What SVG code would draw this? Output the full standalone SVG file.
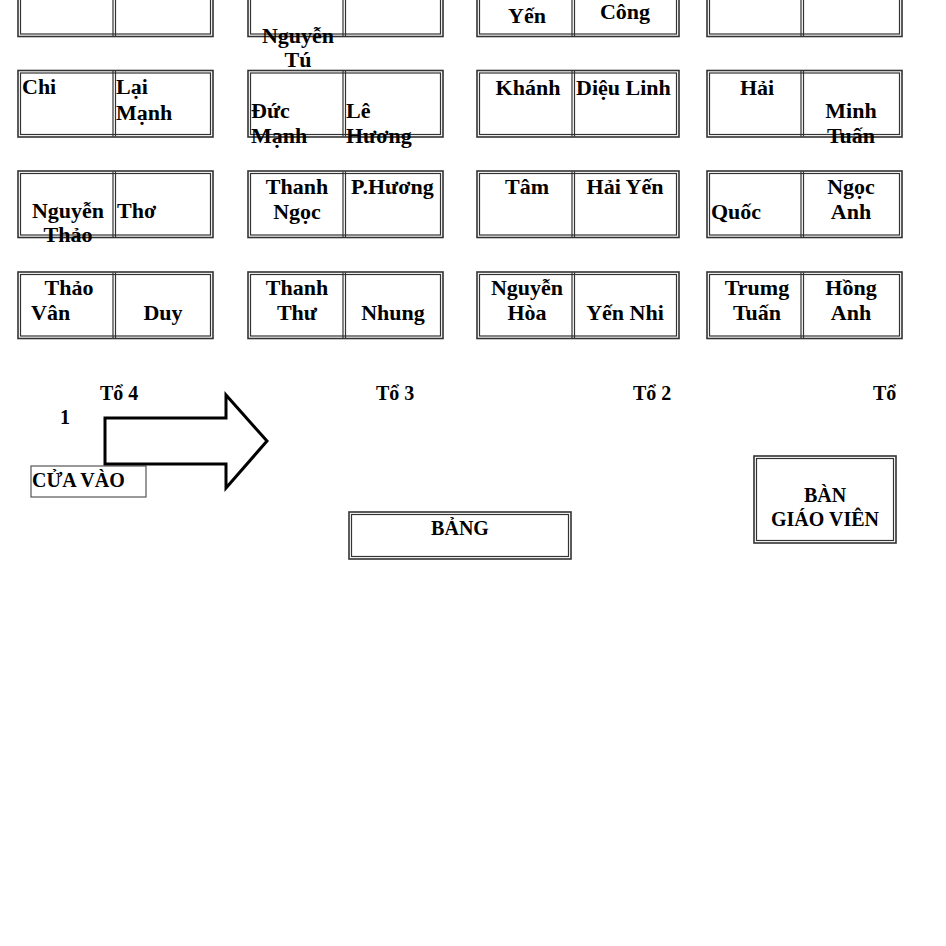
<svg xmlns="http://www.w3.org/2000/svg" width="946" height="946" viewBox="0 0 946 946">
<style>
.o{fill:#fff;stroke:#333;stroke-width:1.6}
.i{fill:none;stroke:#333;stroke-width:1.2}
.s{fill:#fff;stroke:#555;stroke-width:1.2}
text{font-family:"Liberation Serif","Times New Roman",serif;font-weight:bold;fill:#000}
.n{font-size:22px}
.l{font-size:20px}
.c{text-anchor:middle}
</style>
<rect width="946" height="946" fill="#fff"/>

<!-- Row 0 -->
<g id="desk-t4-r0"><rect class="o" x="18" y="-31" width="195" height="67.5"/><rect class="i" x="20.5" y="-28.5" width="190" height="62.5"/><line class="i" x1="113" y1="-30" x2="113" y2="36"/><line class="i" x1="115.5" y1="-30" x2="115.5" y2="36"/></g>
<g id="desk-t3-r0"><rect class="o" x="248" y="-31" width="195" height="67.5"/><rect class="i" x="250.5" y="-28.5" width="190" height="62.5"/><line class="i" x1="343" y1="-30" x2="343" y2="36"/><line class="i" x1="345.5" y1="-30" x2="345.5" y2="36"/>
<text class="n c" x="298" y="43">Nguyễn</text><text class="n c" x="298" y="67">Tú</text></g>
<g id="desk-t2-r0"><rect class="o" x="477" y="-31" width="202" height="67.5"/><rect class="i" x="479.5" y="-28.5" width="197" height="62.5"/><line class="i" x1="572" y1="-30" x2="572" y2="36"/><line class="i" x1="574.5" y1="-30" x2="574.5" y2="36"/>
<text class="n c" x="527" y="23">Yến</text><text class="n c" x="625" y="19">Công</text></g>
<g id="desk-t1-r0"><rect class="o" x="707" y="-31" width="195" height="67.5"/><rect class="i" x="709.5" y="-28.5" width="190" height="62.5"/><line class="i" x1="801" y1="-30" x2="801" y2="36"/><line class="i" x1="803.5" y1="-30" x2="803.5" y2="36"/></g>

<!-- Row 1 -->
<g id="desk-t4-r1"><rect class="o" x="18" y="70.5" width="195" height="66.5"/><rect class="i" x="20.5" y="73" width="190" height="61.5"/><line class="i" x1="113" y1="71" x2="113" y2="136.5"/><line class="i" x1="115.5" y1="71" x2="115.5" y2="136.5"/>
<text class="n" x="22" y="94">Chi</text><text class="n" x="116" y="94">Lại</text><text class="n" x="116" y="120">Mạnh</text></g>
<g id="desk-t3-r1"><rect class="o" x="248" y="70.5" width="195" height="66.5"/><rect class="i" x="250.5" y="73" width="190" height="61.5"/><line class="i" x1="343" y1="71" x2="343" y2="136.5"/><line class="i" x1="345.5" y1="71" x2="345.5" y2="136.5"/>
<text class="n" x="251" y="118">Đức</text><text class="n" x="251" y="143">Mạnh</text><text class="n" x="346" y="118">Lê</text><text class="n" x="346" y="143">Hương</text></g>
<g id="desk-t2-r1"><rect class="o" x="477" y="70.5" width="202" height="66.5"/><rect class="i" x="479.5" y="73" width="197" height="61.5"/><line class="i" x1="572" y1="71" x2="572" y2="136.5"/><line class="i" x1="574.5" y1="71" x2="574.5" y2="136.5"/>
<text class="n c" x="528" y="95">Khánh</text><text class="n" x="576" y="95">Diệu Linh</text></g>
<g id="desk-t1-r1"><rect class="o" x="707" y="70.5" width="195" height="66.5"/><rect class="i" x="709.5" y="73" width="190" height="61.5"/><line class="i" x1="801" y1="71" x2="801" y2="136.5"/><line class="i" x1="803.5" y1="71" x2="803.5" y2="136.5"/>
<text class="n c" x="757" y="95">Hải</text><text class="n c" x="851" y="118">Minh</text><text class="n c" x="851" y="143">Tuấn</text></g>

<!-- Row 2 -->
<g id="desk-t4-r2"><rect class="o" x="18" y="171" width="195" height="66.5"/><rect class="i" x="20.5" y="173.5" width="190" height="61.5"/><line class="i" x1="113" y1="171.5" x2="113" y2="237"/><line class="i" x1="115.5" y1="171.5" x2="115.5" y2="237"/>
<text class="n c" x="68" y="218">Nguyễn</text><text class="n c" x="68" y="242">Thảo</text><text class="n" x="117" y="218">Thơ</text></g>
<g id="desk-t3-r2"><rect class="o" x="248" y="171" width="195" height="66.5"/><rect class="i" x="250.5" y="173.5" width="190" height="61.5"/><line class="i" x1="343" y1="171.5" x2="343" y2="237"/><line class="i" x1="345.5" y1="171.5" x2="345.5" y2="237"/>
<text class="n c" x="297" y="194">Thanh</text><text class="n c" x="297" y="219">Ngọc</text><text class="n" x="351" y="194">P.Hương</text></g>
<g id="desk-t2-r2"><rect class="o" x="477" y="171" width="202" height="66.5"/><rect class="i" x="479.5" y="173.5" width="197" height="61.5"/><line class="i" x1="572" y1="171.5" x2="572" y2="237"/><line class="i" x1="574.5" y1="171.5" x2="574.5" y2="237"/>
<text class="n c" x="527" y="194">Tâm</text><text class="n c" x="625" y="194">Hải Yến</text></g>
<g id="desk-t1-r2"><rect class="o" x="707" y="171" width="195" height="66.5"/><rect class="i" x="709.5" y="173.5" width="190" height="61.5"/><line class="i" x1="801" y1="171.5" x2="801" y2="237"/><line class="i" x1="803.5" y1="171.5" x2="803.5" y2="237"/>
<text class="n" x="711" y="219">Quốc</text><text class="n c" x="851" y="194">Ngọc</text><text class="n c" x="851" y="219">Anh</text></g>

<!-- Row 3 -->
<g id="desk-t4-r3"><rect class="o" x="18" y="272" width="195" height="66.5"/><rect class="i" x="20.5" y="274.5" width="190" height="61.5"/><line class="i" x1="113" y1="272.5" x2="113" y2="338"/><line class="i" x1="115.5" y1="272.5" x2="115.5" y2="338"/>
<text class="n c" x="69" y="295">Thảo</text><text class="n" x="31" y="320">Vân</text><text class="n c" x="163" y="320">Duy</text></g>
<g id="desk-t3-r3"><rect class="o" x="248" y="272" width="195" height="66.5"/><rect class="i" x="250.5" y="274.5" width="190" height="61.5"/><line class="i" x1="343" y1="272.5" x2="343" y2="338"/><line class="i" x1="345.5" y1="272.5" x2="345.5" y2="338"/>
<text class="n c" x="297" y="295">Thanh</text><text class="n c" x="297" y="320">Thư</text><text class="n c" x="393" y="320">Nhung</text></g>
<g id="desk-t2-r3"><rect class="o" x="477" y="272" width="202" height="66.5"/><rect class="i" x="479.5" y="274.5" width="197" height="61.5"/><line class="i" x1="572" y1="272.5" x2="572" y2="338"/><line class="i" x1="574.5" y1="272.5" x2="574.5" y2="338"/>
<text class="n c" x="527" y="295">Nguyễn</text><text class="n c" x="527" y="320">Hòa</text><text class="n c" x="625" y="320">Yến Nhi</text></g>
<g id="desk-t1-r3"><rect class="o" x="707" y="272" width="195" height="66.5"/><rect class="i" x="709.5" y="274.5" width="190" height="61.5"/><line class="i" x1="801" y1="272.5" x2="801" y2="338"/><line class="i" x1="803.5" y1="272.5" x2="803.5" y2="338"/>
<text class="n c" x="757" y="295">Trumg</text><text class="n c" x="757" y="320">Tuấn</text><text class="n c" x="851" y="295">Hồng</text><text class="n c" x="851" y="320">Anh</text></g>

<!-- Group labels -->
<g id="labels">
<text class="l" x="100" y="400">Tổ 4</text>
<text class="l" x="60" y="424">1</text>
<text class="l" x="376" y="400">Tổ 3</text>
<text class="l" x="633" y="400">Tổ 2</text>
<text class="l" x="873" y="400">Tổ</text>
</g>

<!-- Entrance -->
<g id="door"><rect class="s" x="31" y="466" width="115" height="31"/><text class="l" x="32" y="487">CỬA VÀO</text></g>

<g id="arrow"><path d="M105,418 L226,418 L226,395 L267,441 L226,488 L226,464 L105,464 Z" fill="#fff" stroke="#000" stroke-width="3" stroke-linejoin="miter"/></g>

<!-- Board -->
<g id="board"><rect class="o" x="349" y="512" width="222" height="47"/><rect class="i" x="351.5" y="514.5" width="217" height="42"/><text class="l c" x="460" y="535">BẢNG</text></g>

<!-- Teacher desk -->
<g id="teacher"><rect class="o" x="754" y="456" width="142" height="87"/><rect class="i" x="756.5" y="458.5" width="137" height="82"/><text class="l c" x="825" y="502">BÀN</text><text class="l c" x="825" y="526">GIÁO VIÊN</text></g>
</svg>
